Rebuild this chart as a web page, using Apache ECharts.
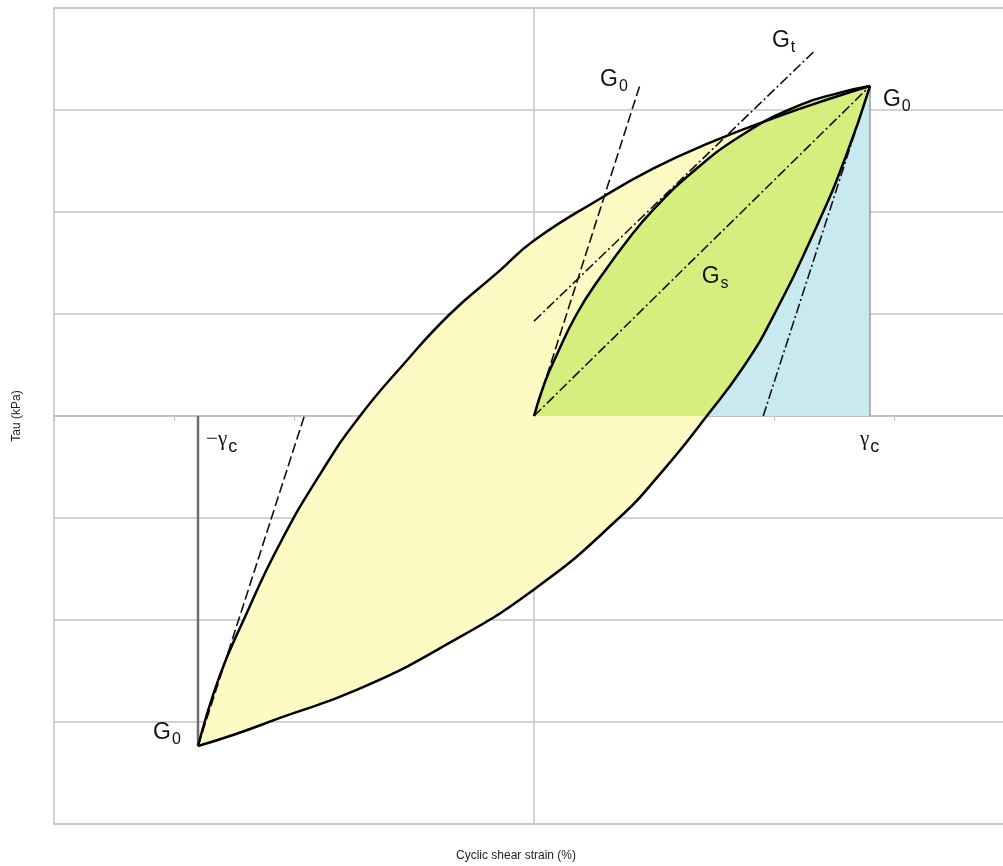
<!DOCTYPE html>
<html>
<head>
    <meta charset="utf-8">
    <title>Hysteresis loop</title>
    <script src="https://cdn.jsdelivr.net/npm/echarts@6/dist/echarts.min.js"></script>
</head>
<body style="margin:0">
    <div id="main" style="width:1003px;height:866px;"></div>
    <script type="text/javascript">
        // loop branches, cyclic shear strain vs tau
        var upperBranch = [[-2.8, -3.235], [-2.62, -2.55], [-2.42, -2.0], [-2.117, -1.25], [-1.756, -0.52],
            [-1.45, 0], [-1.1, 0.49], [-0.7, 1.0], [-0.3, 1.41], [0, 1.72], [0.55, 2.13], [1.0, 2.43],
            [1.467, 2.68], [2.02, 2.93], [2.49, 3.12], [2.8, 3.235]]
        var lowerBranch = [[-2.8, -3.235], [-2.49, -3.12], [-2.117, -2.96], [-1.478, -2.686], [-0.758, -2.26],
            [0, -1.70], [0.69, -1.02], [1.078, -0.53], [1.44, 0], [1.756, 0.5], [1.99, 0.97], [2.36, 1.87],
            [2.6, 2.55], [2.8, 3.235]]
        var backbone = [[0, 0], [0.09, 0.33], [0.19, 0.6], [0.356, 1.0], [0.55, 1.355], [0.83, 1.8],
            [1.0, 2.03], [1.27, 2.34], [1.74, 2.76], [2.22, 3.05], [2.55, 3.17], [2.8, 3.235]]

        // G0 tangents, Gt tangent, Gs secant
        var g0Origin = [[0, 0], [0.883, 3.245]]
        var g0Left = [[-2.8, -3.235], [-1.914, 0]]
        var g0Right = [[1.91, 0], [2.8, 3.235]]
        var gtLine = [[0, 0.93], [2.33, 3.57]]
        var gsLine = [[0, 0], [2.8, 3.235]]
        var minusGammaC = [[-2.8, 0], [-2.8, -3.235]]
        var plusGammaC = [[2.8, 0], [2.8, 3.235]]

        // annotations
        var labelMain = ["G", "G", "G", "G", "G", "\u2212\u03b3", "\u03b3"]
        var labelSub = ["0", "t", "0", "s", "0", "c", "c"]
        var labelAt = [[0.55, 3.30], [1.983, 3.676], [2.908, 3.098], [1.397, 1.363], [-3.175, -3.108],
            [-2.733, -0.235], [2.717, -0.235]]

        var myChart = echarts.init(document.getElementById("main"))

        var positiveLower = lowerBranch.filter(function (p) { return p[1] >= 0 })
        var yellowArea = upperBranch.concat(lowerBranch.slice().reverse())
        var greenArea = backbone.concat(positiveLower.slice().reverse())
        var blueArea = positiveLower.concat([[plusGammaC[0][0], 0]])

        function areaSeries(points, color) {
            return {
                type: "custom",
                silent: true,
                z: 1,
                data: [0],
                renderItem: function (params, api) {
                    return {
                        type: "polygon",
                        shape: { points: points.map(function (p) { return api.coord(p) }) },
                        style: { fill: color, stroke: null }
                    }
                }
            }
        }

        function lineSeries(data, style, smooth) {
            return {
                type: "line",
                data: data,
                showSymbol: false,
                silent: true,
                smooth: smooth || false,
                z: 3,
                lineStyle: style
            }
        }

        var measure = document.createElement("canvas").getContext("2d")
        function textWidth(text, font) {
            measure.font = font
            return measure.measureText(text).width
        }

        var solid = { color: "#000", width: 2.5 }
        var dashed = { color: "#111", width: 1.6, type: [10, 4] }
        var dashDot = { color: "#111", width: 1.6, type: [10, 3, 2, 3] }

        var option = {
            animation: false,
            grid: {
                left: 54, top: 8, width: 960, height: 816,
                outerBoundsMode: "none", containLabel: false,
                show: true, borderColor: "#c4c4c4", borderWidth: 1.5
            },
            xAxis: {
                type: "value", min: -4, max: 4, interval: 1,
                name: "Cyclic shear strain (%)",
                nameLocation: "middle", nameGap: 26,
                nameTextStyle: { fontSize: 12, color: "#222", fontFamily: "Liberation Sans", padding: [0, 36, 0, 0] },
                axisLine: { onZero: true, lineStyle: { color: "#bdbdbd", width: 1.5 } },
                axisTick: { show: true, length: 5, lineStyle: { color: "#bdbdbd" } },
                axisLabel: { show: false },
                splitLine: { show: false }
            },
            yAxis: {
                type: "value", min: -4, max: 4, interval: 1,
                name: "Tau (kPa)",
                nameLocation: "middle", nameGap: 31,
                nameTextStyle: { fontSize: 12, color: "#222", fontFamily: "Liberation Sans" },
                axisLine: { onZero: true, lineStyle: { color: "#c4c4c4", width: 1.5 } },
                axisTick: { show: false },
                axisLabel: { show: false },
                splitLine: { show: true, lineStyle: { color: "#c4c4c4", width: 1.5 } }
            },
            series: [
                areaSeries(yellowArea, "#fefac4"),
                areaSeries(greenArea, "#d5ee7e"),
                areaSeries(blueArea, "#c9e9f1"),
                lineSeries(minusGammaC, { color: "#6e6e6e", width: 2.5 }),
                lineSeries(plusGammaC, { color: "#9a9a9a", width: 1.5 }),
                lineSeries(g0Origin, dashed),
                lineSeries(g0Left, dashed),
                lineSeries(g0Right, dashDot),
                lineSeries(gtLine, dashDot),
                lineSeries(gsLine, dashDot),
                lineSeries(upperBranch, solid, 0.5),
                lineSeries(lowerBranch, solid, 0.5),
                lineSeries(backbone, solid, 0.5),
                {
                    type: "custom",
                    silent: true,
                    z: 5,
                    data: labelAt,
                    renderItem: function (params, api) {
                        var i = params.dataIndex
                        var p = api.coord([api.value(0), api.value(1)])
                        var greek = i >= 5
                        var mainFont = greek ? "21px Liberation Serif" : "23px Liberation Sans"
                        var w = textWidth(labelMain[i], mainFont)
                        return {
                            type: "group",
                            children: [
                                {
                                    type: "text", x: p[0], y: p[1],
                                    style: {
                                        text: labelMain[i], fill: "#111",
                                        font: mainFont, align: "left", verticalAlign: "middle"
                                    }
                                },
                                {
                                    type: "text", x: p[0] + w + 1, y: p[1] + 7,
                                    style: {
                                        text: labelSub[i], fill: "#111",
                                        font: greek ? "18px Liberation Sans" : "16px Liberation Sans",
                                        align: "left", verticalAlign: "middle"
                                    }
                                }
                            ]
                        }
                    }
                }
            ]
        }

        myChart.setOption(option)
    </script>
</body>
</html>
